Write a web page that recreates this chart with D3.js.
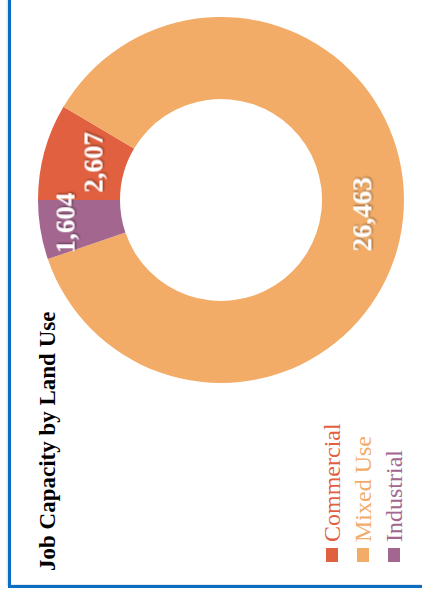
<!DOCTYPE html>
<html>
<head>
<meta charset="utf-8">
<script src="https://cdn.jsdelivr.net/npm/d3@7/dist/d3.min.js"></script>
<style>
  html, body { margin: 0; padding: 0; background: #fff; }
  svg { display: block; }
  .title { font: bold 23px "Liberation Serif", serif; fill: #000; }
  .legend text { font: 24px "Liberation Serif", serif; }
  .labels text { font: bold 27px "Liberation Serif", serif; fill: #fff; }
</style>
</head>
<body>
<svg id="chart" width="422" height="601"></svg>
<script>
// data
const categories = ['Commercial', 'Mixed Use', 'Industrial'];
const jobs = [2607, 26463, 1604];
const colors = ['#e0603f', '#f2ac68', '#a3668f'];
const titleText = 'Job Capacity by Land Use';

// the chart is drawn upright in a 601x422 frame, then turned a quarter left
const W = 601, H = 422;
const CX = 401, CY = 221;
const R_OUT = 183, R_IN = 101;

const svg = d3.select('#chart');

const defs = svg.append('defs');
const shadow = defs.append('filter').attr('id', 'shadow')
  .attr('x', '-20%').attr('y', '-20%').attr('width', '140%').attr('height', '140%');
shadow.append('feDropShadow')
  .attr('dx', 1).attr('dy', 1).attr('stdDeviation', 1.2)
  .attr('flood-color', '#000').attr('flood-opacity', 0.5);

const g = svg.append('g')
  .attr('transform', 'translate(0,' + W + ') rotate(-90)');

// frame (only top and left edges show)
g.append('rect')
  .attr('x', 16).attr('y', 7.5).attr('width', 700).attr('height', 500)
  .attr('fill', 'none').attr('stroke', '#e4e8ee').attr('stroke-width', 2);
g.append('rect')
  .attr('x', 14.5).attr('y', 9.5).attr('width', 700).attr('height', 500)
  .attr('fill', 'none').attr('stroke', '#0a6fc2').attr('stroke-width', 3);

g.append('text')
  .attr('class', 'title')
  .attr('x', 30).attr('y', 55)
  .text(titleText);

const color = d3.scaleOrdinal().domain(categories).range(colors);

const pie = d3.pie().sort(null).value(d => d.value);
const arcs = pie(categories.map((c, i) => ({ name: c, value: jobs[i] })));

const arc = d3.arc().innerRadius(R_IN).outerRadius(R_OUT);

const donut = g.append('g').attr('transform', 'translate(' + CX + ',' + CY + ')');

donut.selectAll('path')
  .data(arcs)
  .enter()
  .append('path')
  .attr('d', arc)
  .attr('fill', d => color(d.data.name));

// labels sit on the centroid, then overlapping ones get pushed apart
const labels = arcs.map(d => {
  const c = arc.centroid(d);
  return { d: d, x: c[0], y: c[1] };
});

const labelText = donut.append('g')
  .attr('class', 'labels')
  .selectAll('text')
  .data(labels)
  .enter()
  .append('text')
  .attr('text-anchor', 'middle')
  .attr('dy', '0.35em')
  .attr('filter', 'url(#shadow)')
  .text(l => d3.format(',')(l.d.data.value));

const GAP = 8;
labelText.each(function (l) {
  const b = this.getBBox();
  l.w = b.width;
  l.h = 20;
});
for (let k = 0; k < 30; k++) {
  for (let i = 0; i < labels.length; i++) {
    for (let j = i + 1; j < labels.length; j++) {
      const a = labels[i], b = labels[j];
      const ox = (a.w + b.w) / 2 - Math.abs(a.x - b.x);
      const oy = (a.h + b.h) / 2 + GAP - Math.abs(a.y - b.y);
      if (ox > 0 && oy > 0) {
        const s = a.y < b.y ? -1 : 1;
        const va = a.d.data.value, vb = b.d.data.value;
        a.y += s * oy * vb / (va + vb);
        b.y -= s * oy * va / (va + vb);
      }
    }
  }
}
labelText.attr('transform', l => 'translate(' + l.x + ',' + l.y + ')');

// legend
const legend = g.append('g').attr('class', 'legend');
const ly = d3.scalePoint().domain(categories).range([326, 388]);

const item = legend.selectAll('g')
  .data(categories)
  .enter()
  .append('g')
  .attr('transform', d => 'translate(39,' + ly(d) + ')');

item.append('rect')
  .attr('width', 14).attr('height', 12)
  .attr('fill', d => color(d));

item.append('text')
  .attr('x', 20).attr('y', 14)
  .attr('fill', d => color(d))
  .text(d => d);
</script>
</body>
</html>
